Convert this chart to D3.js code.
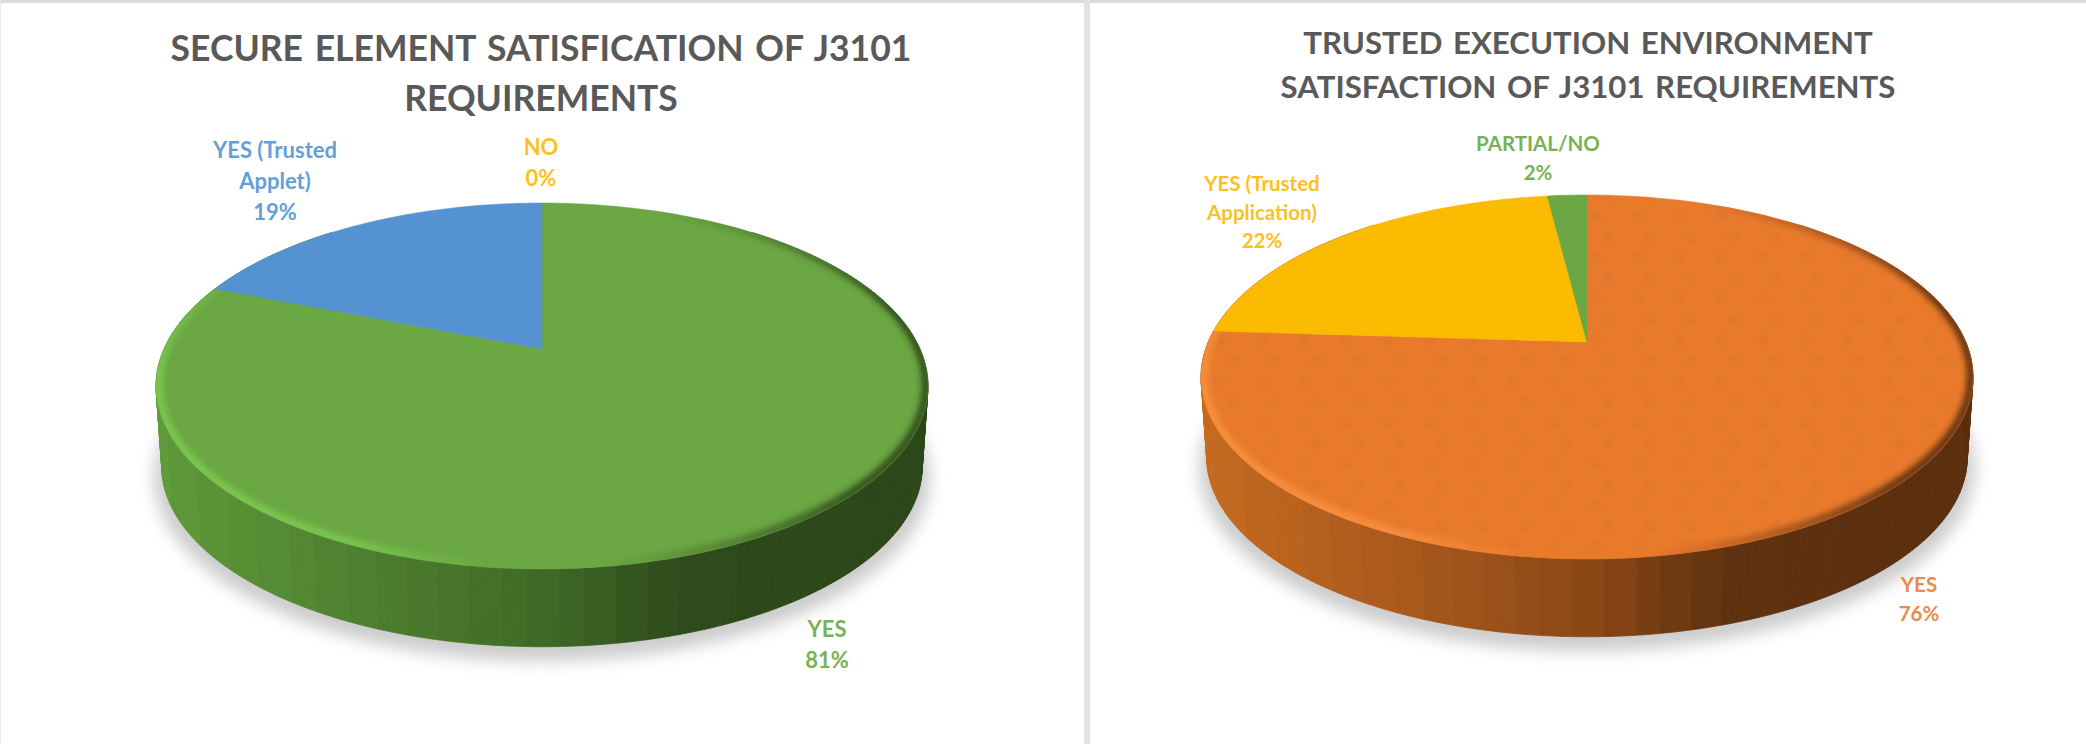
<!DOCTYPE html>
<html>
<head>
<meta charset="utf-8">
<script src="https://cdn.jsdelivr.net/npm/d3@7/dist/d3.min.js"></script>
<style>
  html, body { margin: 0; padding: 0; background: #fff; }
  svg { display: block; }
  text { font-family: Lato, "Open Sans", sans-serif; font-weight: 700; }
</style>
</head>
<body>
<svg id="chart" width="2086" height="744"></svg>
<script>
// Slice values, in percent, clockwise from twelve o'clock
const seCategories = [["YES"], ["YES (Trusted", "Applet)"], ["NO"]];
const seValues = [81, 19, 0];
const seColors = ["#6ba743", "#5592d2", "#fbbb00"];
const seLabelColors = ["#78b254", "#649fd8", "#fcc11e"];
const seTitle = ["SECURE ELEMENT SATISFICATION OF J3101", "REQUIREMENTS"];

const teeCategories = [["YES"], ["YES (Trusted", "Application)"], ["PARTIAL/NO"]];
const teeValues = [76, 22, 2];
const teeColors = ["#e97a2c", "#fbbb00", "#6ba743"];
const teeLabelColors = ["#ec8a4c", "#fcc11e", "#78b254"];
const teeTitle = ["TRUSTED EXECUTION ENVIRONMENT", "SATISFACTION OF J3101 REQUIREMENTS"];

// Placement of each pie: the disc is described by its projected extremes
const seLayout = {
  cx: 542, top: 203, apex: 349, bottom: 569, halfWidth: 386, depth: 81,
  titleSize: 35.5, titleWord: 3, titleY: [48, 98], titleX: 541,
  labelSize: 22, labelStep: 31,
  labelPos: [[827, 629], [275, 150], [541, 147]],
  wall: ["#5f9b3b", "#4f812f", "#3f6a26", "#2e4a1a", "#2c4719"],
  bevelLight: "#7ccb4f", bevelDark: "#2f4a1b", dots: false
};
const teeLayout = {
  cx: 1587, top: 195, apex: 342, bottom: 559, halfWidth: 386, depth: 81,
  titleSize: 31.2, titleWord: 3, titleY: [43, 87], titleX: 1588,
  labelSize: 20.5, labelStep: 28.5,
  labelPos: [[1919, 585], [1262, 184], [1538, 144]],
  wall: ["#c56a20", "#aa5a1c", "#8b4716", "#5f3110", "#5a2e0e"],
  bevelLight: "#f8913f", bevelDark: "#5a2f0f", dots: true
};

const svg = d3.select("#chart");
const defs = svg.append("defs");

const addBlur = (id, dev) => defs.append("filter").attr("id", id)
  .attr("x", "-20%").attr("y", "-20%").attr("width", "140%").attr("height", "140%")
  .append("feGaussianBlur").attr("stdDeviation", dev);
addBlur("shadowBlur", 8);
addBlur("bevelBlur", 3);
addBlur("dotBlur", 0.8);

// Faint dotted texture carried by the orange slice
const dotPattern = defs.append("pattern").attr("id", "dots")
  .attr("patternUnits", "userSpaceOnUse").attr("width", 41.7).attr("height", 41.3)
  .attr("x", 1478).attr("y", 356);
dotPattern.append("rect").attr("width", 10).attr("height", 10).attr("fill", "#d66a2c").attr("opacity", 0.24);
dotPattern.append("rect").attr("x", 30).attr("y", 20.6).attr("width", 10).attr("height", 10).attr("fill", "#d66a2c").attr("opacity", 0.24);

// Page background and panel frames
svg.append("rect").attr("width", 2086).attr("height", 744).attr("fill", "#fff");
svg.append("rect").attr("width", 2086).attr("height", 3).attr("fill", "#dcdcdc");
svg.append("rect").attr("x", 1084).attr("width", 6).attr("height", 744).attr("fill", "#e2e2e2");
svg.append("rect").attr("width", 1).attr("height", 744).attr("fill", "#ececec");

const DEG = Math.PI / 180;

function drawPie(idx, categories, values, colors, labelColors, title, L) {
  const g = svg.append("g");

  // Perspective tilt derived from where the disc centre lands between its extremes
  const above = L.apex - L.top, below = L.bottom - L.apex;
  const ratio = below / above;
  const k = (ratio - 1) / (ratio + 1);
  const S = above * (1 + k);
  const R = L.halfWidth * Math.sqrt(1 - k * k);

  const project = (theta, off = 0, sc = 1) => {
    const u = Math.sin(theta), v = -Math.cos(theta), w = 1 - k * v;
    return [L.cx + sc * R * u / w, L.apex + off + sc * S * v / w];
  };
  const line = d3.line();
  const sweep = (a0, a1, n, off, sc) =>
    d3.range(n + 1).map(i => project(a0 + (a1 - a0) * i / n, off, sc));

  // Drop shadow under the pie
  g.append("path")
    .attr("d", line(sweep(0, 2 * Math.PI, 180, L.depth + 10, 1.005)) + "Z")
    .attr("fill", "#9a9a9a").attr("opacity", 0.5)
    .attr("filter", "url(#shadowBlur)");

  // Front wall as narrow banded strips, shaded left to right
  const wallColor = d3.scaleLinear()
    .domain([0, 0.25, 0.5, 0.68, 1]).range(L.wall);
  const bands = 26;
  const wallStep = 1 * DEG;
  d3.range(40 * DEG, 320 * DEG, wallStep).forEach(a => {
    const a1 = a + wallStep;
    const p0 = project(a), p1 = project(a1);
    const q0 = project(a, L.depth, 0.985), q1 = project(a1, L.depth, 0.985);
    const t = (q0[0] + q1[0]) / 2;
    const f = (t - (L.cx - L.halfWidth)) / (2 * L.halfWidth);
    const col = wallColor(Math.round(f * bands) / bands);
    g.append("path").attr("d", line([p0, p1, q1, q0]) + "Z")
      .attr("fill", col).attr("stroke", col).attr("stroke-width", 0.8);
  });

  // Top face slices, from the pie layout
  const arcs = d3.pie().sort(null).value(d => d)(values);
  const slicePath = d => {
    const n = Math.max(1, Math.ceil((d.endAngle - d.startAngle) / (1.5 * DEG)));
    return line([[L.cx, L.apex], ...sweep(d.startAngle, d.endAngle, n, 0, 1)]) + "Z";
  };
  g.selectAll("path.slice").data(arcs).join("path").attr("class", "slice")
    .attr("d", slicePath).attr("fill", (d, i) => colors[i])
    .attr("stroke", (d, i) => colors[i]).attr("stroke-width", d => d.value > 0 ? 0.5 : 0);

  if (L.dots) {
    g.append("path").attr("d", slicePath(arcs[0])).attr("fill", "url(#dots)")
      .attr("filter", "url(#dotBlur)");
  }

  // Soft bevel on the largest slice: dark on the right, bright on the lower left
  const clipId = "face" + idx;
  defs.append("clipPath").attr("id", clipId).append("path").attr("d", slicePath(arcs[0]));
  const base = colors[0];
  const bevelTone = d3.scaleLinear()
    .domain([20, 75, 135, 172, 186, 205, 262, 300])
    .range([base, L.bevelDark, L.bevelDark, base, base, L.bevelLight, L.bevelLight, base]);
  const bevel = g.append("g").attr("clip-path", `url(#${clipId})`)
    .append("g").attr("filter", "url(#bevelBlur)");
  d3.range(20, 300, 1).forEach(deg => {
    bevel.append("path")
      .attr("d", line([project(deg * DEG, -1, 0.995), project((deg + 1.4) * DEG, -1, 0.995)]))
      .attr("fill", "none")
      .attr("stroke", bevelTone(deg))
      .attr("stroke-width", 8);
  });

  // Title
  g.selectAll("text.title").data(title).join("text").attr("class", "title")
    .attr("x", L.titleX).attr("y", (d, i) => L.titleY[i])
    .attr("dy", "0.36em").attr("text-anchor", "middle")
    .attr("fill", "#595959").attr("font-size", L.titleSize)
    .attr("word-spacing", L.titleWord)
    .text(d => d);

  // Slice labels: category lines followed by the percentage
  arcs.forEach((d, i) => {
    const lines = [...categories[i], d.value + "%"];
    g.selectAll(null).data(lines).join("text")
      .attr("x", L.labelPos[i][0])
      .attr("y", (s, j) => L.labelPos[i][1] + j * L.labelStep)
      .attr("dy", "0.36em").attr("text-anchor", "middle")
      .attr("fill", labelColors[i]).attr("font-size", L.labelSize)
      .text(s => s);
  });
}

drawPie(0, seCategories, seValues, seColors, seLabelColors, seTitle, seLayout);
drawPie(1, teeCategories, teeValues, teeColors, teeLabelColors, teeTitle, teeLayout);
</script>
</body>
</html>
